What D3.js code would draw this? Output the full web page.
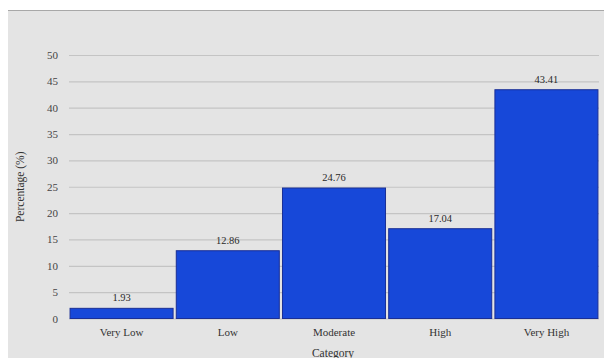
<!DOCTYPE html>
<html>
<head>
<meta charset="utf-8">
<script src="https://cdn.jsdelivr.net/npm/d3@7"></script>
<style>
  html, body { margin: 0; padding: 0; background: #ffffff; }
  svg { display: block; }
</style>
</head>
<body>
<div id="chart"></div>
<script>
// Share of observations in each category (percent)
const categories = ["Very Low", "Low", "Moderate", "High", "Very High"];
const percentages = [1.93, 12.86, 24.76, 17.04, 43.41];
const yTicks = [0, 5, 10, 15, 20, 25, 30, 35, 40, 45, 50];

const width = 604, height = 358;
const margin = { top: 55, right: 5, bottom: 39.5, left: 69 };

const svg = d3.select("#chart").append("svg")
  .attr("width", width)
  .attr("height", height);

// Grey panel with a thin border along its top edge
svg.append("rect")
  .attr("x", 8).attr("y", 11)
  .attr("width", width - 8).attr("height", height - 11)
  .attr("fill", "#e4e4e4");
svg.append("line")
  .attr("x1", 8).attr("x2", width)
  .attr("y1", 10.5).attr("y2", 10.5)
  .attr("stroke", "#a8a8a8").attr("stroke-width", 1.2);

const x = d3.scaleBand()
  .domain(categories)
  .range([margin.left, width - margin.right])
  .paddingInner(0.03)
  .paddingOuter(0.01);

const y = d3.scaleLinear()
  .domain([0, 50])
  .range([height - margin.bottom, margin.top]);

// Horizontal grid lines
const yAxis = d3.axisLeft(y)
  .tickValues(yTicks)
  .tickSize(-(width - margin.right - margin.left))
  .tickPadding(11);

const gy = svg.append("g")
  .attr("transform", `translate(${margin.left},0)`)
  .call(yAxis);
gy.select(".domain").remove();
gy.selectAll(".tick line")
  .attr("stroke", "#c4c4c4")
  .attr("stroke-width", 1.2);
gy.selectAll(".tick text")
  .attr("fill", "#444")
  .style("font-family", "'Liberation Serif', serif")
  .style("font-size", "11px");

// Bars
svg.append("g").selectAll("rect")
  .data(categories)
  .join("rect")
  .attr("x", d => x(d))
  .attr("width", x.bandwidth())
  .attr("y", (d, i) => y(percentages[i]))
  .attr("height", (d, i) => y(0) - y(percentages[i]))
  .attr("fill", "#1748d9")
  .attr("stroke", "#1a2f96")
  .attr("stroke-width", 1);

// Value labels above each bar
svg.append("g").selectAll("text")
  .data(categories)
  .join("text")
  .attr("x", d => x(d) + x.bandwidth() / 2)
  .attr("y", (d, i) => y(percentages[i]) - 7)
  .attr("text-anchor", "middle")
  .attr("fill", "#2a2a2a")
  .style("font-family", "'Liberation Serif', serif")
  .style("font-size", "10.5px")
  .text((d, i) => percentages[i].toFixed(2));

// Category axis labels
const xAxis = d3.axisBottom(x).tickSize(0).tickPadding(10);
const gx = svg.append("g")
  .attr("transform", `translate(0,${height - margin.bottom})`)
  .call(xAxis);
gx.select(".domain").remove();
gx.selectAll(".tick text")
  .attr("fill", "#333")
  .style("font-family", "'Liberation Serif', serif")
  .style("font-size", "11px");

// Axis titles
svg.append("text")
  .attr("x", 333)
  .attr("y", 357)
  .attr("text-anchor", "middle")
  .attr("fill", "#333")
  .style("font-family", "'Liberation Serif', serif")
  .style("font-size", "11.5px")
  .text("Category");

svg.append("text")
  .attr("transform", `translate(24,${(y(0) + y(50)) / 2}) rotate(-90)`)
  .attr("text-anchor", "middle")
  .attr("fill", "#333")
  .style("font-family", "'Liberation Serif', serif")
  .style("font-size", "11.5px")
  .text("Percentage (%)");
</script>
</body>
</html>
